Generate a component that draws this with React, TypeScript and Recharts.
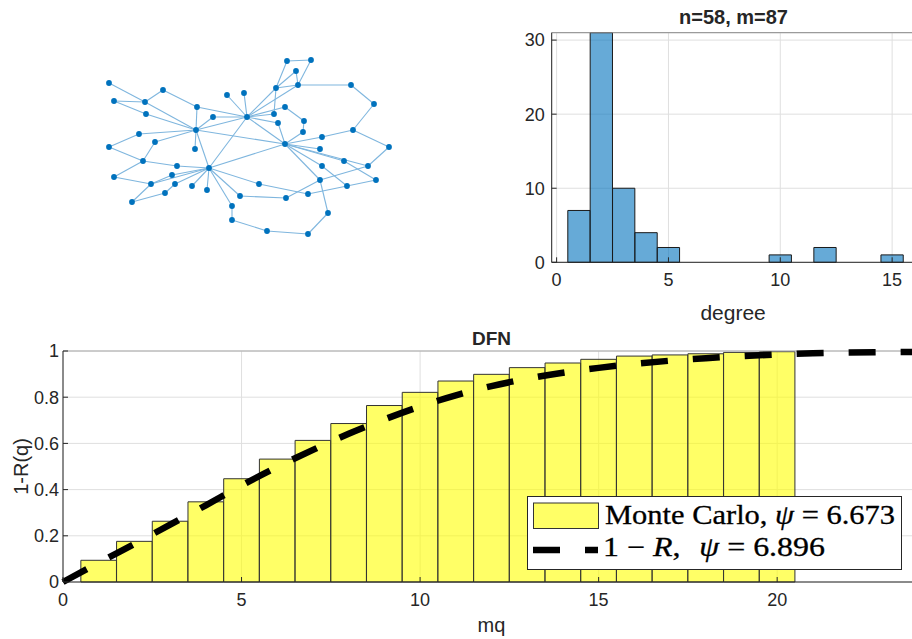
import {
  Bar,
  CartesianGrid,
  ComposedChart,
  Legend,
  Line,
  ReferenceLine,
  Scatter,
  ScatterChart,
  XAxis,
  YAxis,
} from "recharts";

const FONT = '"Liberation Sans", Arial, Helvetica, sans-serif';
const SERIF = '"Liberation Serif", "Times New Roman", serif';
const INK = "#262626";
const BLUE = "#0072BD";

// graph layout: [id, x, y] (y grows downward)
const graphNodes: [string, number, number][] = [
  ["A", 109, 83], ["B", 114, 101], ["C", 145, 102], ["D", 163, 90], ["E", 146, 114],
  ["F", 197, 107], ["G", 227, 95], ["H", 244, 93], ["I", 247, 117], ["J", 213, 117],
  ["K", 196, 130], ["L", 139, 134], ["M", 109, 147], ["N", 155, 142], ["O", 195, 149],
  ["P", 143, 161], ["Q", 209, 168], ["R", 177, 166], ["S", 114, 177], ["T", 151, 184],
  ["U", 172, 175], ["V", 175, 184], ["W", 192, 186], ["X", 207, 190], ["Y", 165, 193],
  ["Z", 132, 202], ["a", 240, 196], ["b", 232, 206], ["c", 232, 220], ["d", 259, 184],
  ["e", 286, 198], ["f", 308, 194], ["g", 267, 231], ["h", 308, 234], ["i", 328, 213],
  ["j", 320, 180], ["k", 347, 186], ["l", 376, 180], ["m", 368, 166], ["n", 344, 161],
  ["o", 322, 166], ["p", 389, 147], ["q", 320, 149], ["r", 285, 144], ["s", 322, 137],
  ["t", 303, 132], ["u", 353, 130], ["v", 304, 121], ["w", 278, 123], ["x", 274, 114],
  ["y", 285, 107], ["z", 374, 104], ["aa", 351, 85], ["bb", 298, 85], ["cc", 276, 88],
  ["dd", 296, 71], ["ee", 287, 61], ["ff", 311, 60],
];

const graphEdges: [string, string][] = [
  ["A", "C"], ["B", "C"], ["B", "E"], ["E", "K"], ["C", "D"], ["D", "F"], ["C", "K"],
  ["F", "K"], ["F", "I"], ["J", "I"], ["J", "K"], ["K", "I"], ["L", "K"], ["L", "M"],
  ["M", "P"], ["N", "K"], ["N", "P"], ["K", "O"], ["K", "Q"], ["K", "r"], ["I", "Q"],
  ["P", "R"], ["R", "Q"], ["P", "S"], ["S", "T"], ["T", "Q"], ["G", "I"], ["H", "I"],
  ["T", "Z"], ["Z", "Y"], ["Y", "V"], ["V", "Q"], ["T", "U"], ["U", "Q"], ["W", "Q"],
  ["X", "Q"], ["Q", "r"], ["Q", "d"], ["Q", "a"], ["Q", "b"], ["b", "c"], ["c", "g"],
  ["a", "e"], ["e", "j"], ["d", "f"], ["f", "k"], ["k", "l"], ["o", "k"], ["r", "o"],
  ["r", "q"], ["r", "n"], ["n", "l"], ["r", "m"], ["m", "p"], ["j", "m"], ["j", "r"],
  ["j", "i"], ["i", "h"], ["h", "g"], ["p", "u"], ["u", "z"], ["z", "aa"], ["aa", "bb"],
  ["bb", "cc"], ["bb", "ff"], ["bb", "dd"], ["dd", "cc"], ["ee", "ff"], ["ee", "cc"],
  ["cc", "x"], ["I", "cc"], ["I", "bb"], ["I", "y"], ["I", "x"], ["I", "w"], ["I", "r"],
  ["w", "r"], ["y", "v"], ["v", "t"], ["t", "r"], ["r", "s"], ["s", "u"],
];

// degree histogram
const degreeBins = [1, 2, 3, 4, 5, 6, 7, 8, 9, 10, 11, 12, 13, 14, 15];
const degreeCounts = [7, 31, 10, 4, 2, 0, 0, 0, 0, 1, 0, 2, 0, 0, 1];
const degreeTicks = [0, 5, 10, 15];
const countTicks = [0, 10, 20, 30];

// DFN: Monte Carlo bars and 1-R(q)
const mqGrid = [0, 1, 2, 3, 4, 5, 6, 7, 8, 9, 10, 11, 12, 13, 14, 15, 16, 17, 18, 19, 20, 21, 22, 23, 24];
const mcBins = [1, 2, 3, 4, 5, 6, 7, 8, 9, 10, 11, 12, 13, 14, 15, 16, 17, 18, 19, 20];
const mcValues = [
  0.094, 0.176, 0.263, 0.347, 0.447, 0.532, 0.613, 0.686, 0.764, 0.821,
  0.87, 0.899, 0.928, 0.948, 0.964, 0.978, 0.983, 0.988, 0.994, 0.997,
];
const oneMinusR = [
  0, 0.083, 0.165, 0.248, 0.332, 0.418, 0.498, 0.572, 0.642, 0.704, 0.76, 0.808, 0.848,
  0.88, 0.906, 0.927, 0.944, 0.958, 0.969, 0.978, 0.985, 0.99, 0.993, 0.995, 0.996,
];
const mqTicks = [0, 5, 10, 15, 20];
const probTicks = [0, 0.2, 0.4, 0.6, 0.8, 1];
const psiMonteCarlo = "6.673";
const psiTheory = "6.896";

const nodeData = graphNodes.map(([id, x, y]) => ({ id, x, y }));
const nodeById = Object.fromEntries(nodeData.map((n) => [n.id, n]));
const histData = degreeBins.map((degree, i) => ({ degree, count: degreeCounts[i] }));
const dfnData = mqGrid.map((mq, i) => {
  const k = mcBins.indexOf(mq);
  return { mq, mc: k >= 0 ? mcValues[k] : 0, theory: oneMinusR[i] };
});

const tickStyle = { fill: INK, fontSize: 18, fontFamily: FONT };

function DfnLegend() {
  return (
    <svg width={375} height={74} style={{ display: "block" }}>
      <rect x={0.5} y={0.5} width={374} height={73} fill="#fff" stroke={INK} strokeWidth={1} />
      <rect x={6.5} y={7} width={65} height={25.5} fill="#ffff00" fillOpacity={0.6} stroke="#333" />
      <line x1={6} y1={54} x2={71} y2={54} stroke="#000" strokeWidth={6.5} strokeDasharray="27 25" />
      <text
        x={78}
        y={27.5}
        fontFamily={SERIF}
        fontSize={27}
        fill="#000"
        stroke="#000"
        strokeWidth={0.3}
        textLength={290}
        lengthAdjust="spacingAndGlyphs"
      >
        Monte Carlo, <tspan fontStyle="italic">ψ</tspan> = {psiMonteCarlo}
      </text>
      <text
        x={76}
        y={60}
        fontFamily={SERIF}
        fontSize={27}
        fill="#000"
        stroke="#000"
        strokeWidth={0.3}
        textLength={222}
        lengthAdjust="spacingAndGlyphs"
      >
        1 − <tspan fontStyle="italic">R</tspan>,<tspan dx={16} fontStyle="italic">ψ</tspan> = {psiTheory}
      </text>
    </svg>
  );
}

export default function App() {
  return (
    <div
      style={{
        position: "absolute",
        left: 0,
        top: 0,
        width: 912,
        height: 639,
        overflow: "hidden",
        background: "#fff",
        fontFamily: FONT,
        color: INK,
      }}
    >
      {/* network */}
      <div style={{ position: "absolute", left: 0, top: 0 }}>
        <ScatterChart width={420} height={260} margin={{ top: 0, right: 0, bottom: 0, left: 0 }}>
          <XAxis type="number" dataKey="x" domain={[0, 420]} hide />
          <YAxis type="number" dataKey="y" domain={[0, 260]} reversed hide />
          {graphEdges.map(([a, b]) => (
            <Scatter
              key={`${a}-${b}`}
              data={[nodeById[a], nodeById[b]]}
              line={{ stroke: "#7fb6de", strokeWidth: 1.1 }}
              shape={() => <g />}
              isAnimationActive={false}
            />
          ))}
          <Scatter
            data={nodeData}
            shape={(p: any) => <circle cx={p.cx} cy={p.cy} r={2.9} fill={BLUE} />}
            isAnimationActive={false}
          />
        </ScatterChart>
      </div>

      {/* degree histogram */}
      <div
        style={{
          position: "absolute",
          left: 480,
          top: 7.4,
          width: 507,
          textAlign: "center",
          fontWeight: "bold",
          fontSize: 20,
          lineHeight: "20px",
        }}
      >
        n=58, m=87
      </div>
      <div style={{ position: "absolute", left: 480, top: 0 }}>
        <ComposedChart
          width={440}
          height={330}
          data={histData}
          margin={{ top: 32.7, right: 5.5, bottom: 10, left: 31.7 }}
        >
          <CartesianGrid stroke="#dfdfdf" />
          <XAxis
            type="number"
            dataKey="degree"
            domain={[-0.22, 16]}
            ticks={degreeTicks}
            height={57.7}
            tickSize={-5}
            tickMargin={16}
            tick={tickStyle}
            axisLine={{ stroke: INK }}
            tickLine={{ stroke: INK }}
            label={{ value: "degree", position: "insideBottom", offset: 0, fill: INK, fontSize: 21, fontFamily: FONT }}
          />
          <YAxis
            type="number"
            domain={[0, 31]}
            ticks={countTicks}
            width={40}
            tickSize={-5}
            tickMargin={12}
            tick={tickStyle}
            axisLine={{ stroke: INK }}
            tickLine={{ stroke: INK }}
          />
          <ReferenceLine y={31} stroke="#8a8a8a" />
          <Bar
            dataKey="count"
            barSize={22.3}
            fill={BLUE}
            fillOpacity={0.6}
            stroke="#1a1a1a"
            strokeWidth={1}
            isAnimationActive={false}
          />
        </ComposedChart>
      </div>

      {/* DFN */}
      <div
        style={{
          position: "absolute",
          left: 63,
          top: 328.5,
          width: 857,
          textAlign: "center",
          fontWeight: "bold",
          fontSize: 19,
          lineHeight: "19px",
        }}
      >
        DFN
      </div>
      <div style={{ position: "absolute", left: 0, top: 330 }}>
        <ComposedChart
          width={930}
          height={309}
          data={dfnData}
          margin={{ top: 21, right: 10, bottom: 7, left: 20 }}
        >
          <CartesianGrid stroke="#dfdfdf" />
          <XAxis
            type="number"
            dataKey="mq"
            domain={[0, 24]}
            ticks={mqTicks}
            height={50}
            tickSize={-5}
            tickMargin={16}
            tick={tickStyle}
            axisLine={{ stroke: INK }}
            tickLine={{ stroke: INK }}
            label={{ value: "mq", position: "insideBottom", offset: 0, fill: INK, fontSize: 20, fontFamily: FONT }}
          />
          <YAxis
            type="number"
            domain={[0, 1]}
            ticks={probTicks}
            width={43}
            tickSize={-5}
            tickMargin={9}
            tick={tickStyle}
            axisLine={{ stroke: INK }}
            tickLine={{ stroke: INK }}
            label={{
              value: "1-R(q)",
              angle: -90,
              position: "insideLeft",
              offset: 1,
              fill: INK,
              fontSize: 20,
              fontFamily: FONT,
              style: { textAnchor: "middle" },
            }}
          />
          <ReferenceLine y={1} stroke="#a8a8a8" />
          <Bar
            dataKey="mc"
            barSize={35.6}
            fill="#ffff00"
            fillOpacity={0.6}
            stroke="#333"
            strokeWidth={1}
            isAnimationActive={false}
          />
          <Line
            dataKey="theory"
            type="monotone"
            stroke="#000"
            strokeWidth={6.5}
            strokeDasharray="27 25"
            dot={false}
            activeDot={false}
            isAnimationActive={false}
          />
          <Legend
            layout="horizontal"
            verticalAlign="middle"
            align="center"
            wrapperStyle={{ left: 527, top: 166, width: 375, height: 74 }}
            content={() => <DfnLegend />}
          />
        </ComposedChart>
      </div>
    </div>
  );
}
